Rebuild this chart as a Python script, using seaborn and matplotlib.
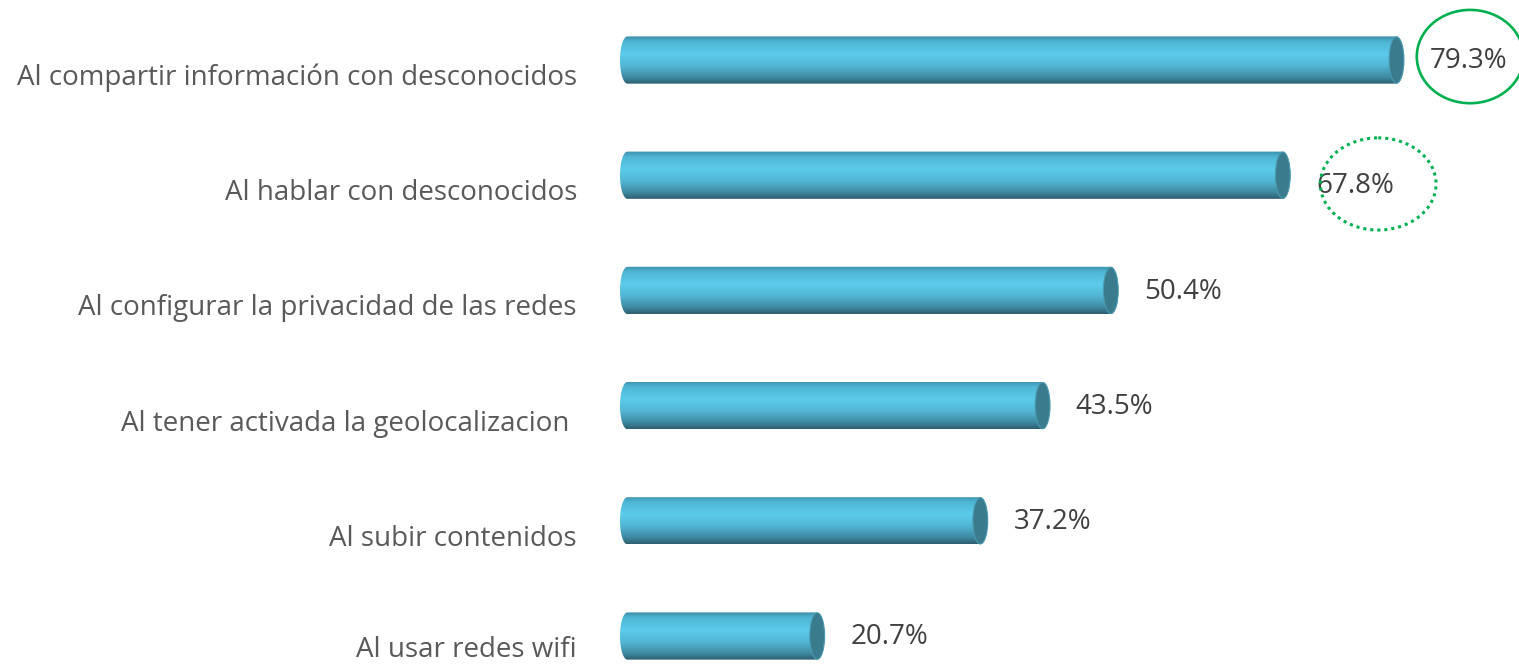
import numpy as np
import pandas as pd
import matplotlib
matplotlib.use("Agg")
import matplotlib.pyplot as plt
import seaborn as sns
from matplotlib.path import Path
from matplotlib.patches import PathPatch, Ellipse
from matplotlib.colors import LinearSegmentedColormap

# --- data ---
categories = [
    "Al compartir información con desconocidos",
    "Al hablar con desconocidos",
    "Al configurar la privacidad de las redes",
    "Al tener activada la geolocalizacion ",
    "Al subir contenidos",
    "Al usar redes wifi",
]
values = [79.3, 67.8, 50.4, 43.5, 37.2, 20.7]
value_labels = ["79.3%", "67.8%", "50.4%", "43.5%", "37.2%", "20.7%"]

df = pd.DataFrame({"cat": categories, "val": values})

sns.set_theme(style="white")
plt.rcParams["font.family"] = ["Open Sans", "DejaVu Sans"]

fig = plt.figure(figsize=(15.19, 6.64), dpi=100)
ax = fig.add_axes([620 / 1519, 0, 899 / 1519, 1])

sns.barplot(data=df, x="val", y="cat", orient="h", width=0.41, ax=ax, color="#5ac8e8")

ax.set_xlim(0, 90.94)
ax.set_ylim(5.243, -0.521)
ax.axis("off")

# cylinder look: gradient body clipped to a rounded path, dark cap on the right
cmap = LinearSegmentedColormap.from_list("cyl", [
    (0.0, "#3b8ea8"), (0.12, "#4fb6d4"), (0.38, "#5ccbeb"),
    (0.62, "#52b6d4"), (0.85, "#3f8ca4"), (1.0, "#2d5e6e")])
grad = np.linspace(0, 1, 256).reshape(-1, 1)
a = 0.75  # half width of the end ellipse, in % units

for p in ax.patches:
    x0, w = p.get_x(), p.get_width()
    yc = p.get_y() + p.get_height() / 2
    hh = p.get_height() / 2
    p.set_visible(False)
    t1 = np.linspace(-np.pi / 2, np.pi / 2, 40)
    right = np.column_stack([w - a + a * np.cos(t1), yc - hh * np.sin(t1)])
    t2 = np.linspace(np.pi / 2, 3 * np.pi / 2, 40)
    left = np.column_stack([a + a * np.cos(t2), yc - hh * np.sin(t2)])
    verts = np.vstack([right, left, right[:1]])
    clip = PathPatch(Path(verts), facecolor="none", edgecolor="none",
                     transform=ax.transData)
    ax.add_patch(clip)
    im = ax.imshow(grad, cmap=cmap, aspect="auto",
                   extent=(x0, x0 + w, yc + hh, yc - hh), zorder=2)
    im.set_clip_path(clip)
    cap = Ellipse((w - a, yc), 2 * a, 2 * hh * 0.98, facecolor="#3a7b8d",
                  edgecolor="#4a9ab0", lw=0.8, zorder=3)
    ax.add_patch(cap)

# category labels at the left (sit a bit below the bar centre)
n = len(categories)
for i, c in enumerate(categories):
    dy = 0.12 if i == n - 1 else 0.156
    ax.text(-4.35, i + dy, c, ha="right", va="center", fontsize=20,
            color="#595959", clip_on=False)

# value labels
for i, (v, lab) in enumerate(zip(values, value_labels)):
    dy = 0.09 if i == 1 else 0.01
    ax.text(v + 2.6, i + dy, lab, ha="left", va="center", fontsize=20,
            color="#404040", clip_on=False)

# highlight ellipses
ax.add_patch(Ellipse((86.0, -0.03), 10.8, 0.81, fill=False, edgecolor="#00b050",
                     lw=1.9, zorder=4, clip_on=False))
ax.add_patch(Ellipse((76.7, 1.076), 11.7, 0.80, fill=False, edgecolor="#00b050",
                     lw=2.2, linestyle=(0, (1, 1.3)), zorder=4))

fig.savefig("out.png", dpi=100)
